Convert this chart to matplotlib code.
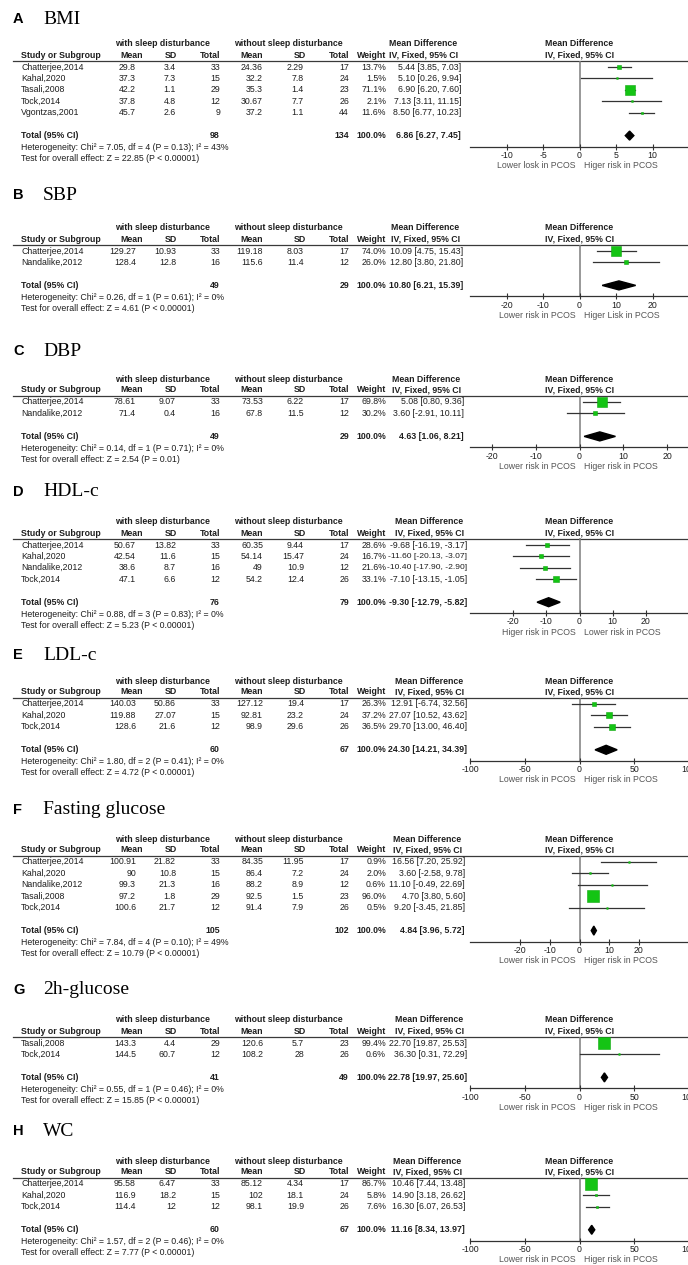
import matplotlib
matplotlib.use("Agg")
import matplotlib.pyplot as plt
from matplotlib.transforms import offset_copy

plt.rcParams['font.family'] = ['Liberation Sans', 'DejaVu Sans']
plt.rcParams['axes.unicode_minus'] = False

# ------------------------------------------------------------------ data
# A  BMI
A_studies = ["Chatterjee,2014", "Kahal,2020", "Tasali,2008", "Tock,2014", "Vgontzas,2001"]
A_exp_mean = [29.8, 37.3, 42.2, 37.8, 45.7]
A_exp_sd = [3.4, 7.3, 1.1, 4.8, 2.6]
A_exp_n = [33, 15, 29, 12, 9]
A_ctl_mean = [24.36, 32.2, 35.3, 30.67, 37.2]
A_ctl_sd = [2.29, 7.8, 1.4, 7.7, 1.1]
A_ctl_n = [17, 24, 23, 26, 44]
A_weight = [13.7, 1.5, 71.1, 2.1, 11.6]
A_md = [5.44, 5.10, 6.90, 7.13, 8.50]
A_lo = [3.85, 0.26, 6.20, 3.11, 6.77]
A_hi = [7.03, 9.94, 7.60, 11.15, 10.23]
A_totals = [98, 134]
A_pooled = [6.86, 6.27, 7.45]
A_het = [7.05, 4, 0.13, 43]
A_z = [22.85, "< 0.00001"]
A_ticks = [-10, -5, 0, 5, 10]
A_labels = ["Lower losk in PCOS", "Higer risk in PCOS"]

# B  SBP
B_studies = ["Chatterjee,2014", "Nandalike,2012"]
B_exp_mean = [129.27, 128.4]
B_exp_sd = [10.93, 12.8]
B_exp_n = [33, 16]
B_ctl_mean = [119.18, 115.6]
B_ctl_sd = [8.03, 11.4]
B_ctl_n = [17, 12]
B_weight = [74.0, 26.0]
B_md = [10.09, 12.80]
B_lo = [4.75, 3.80]
B_hi = [15.43, 21.80]
B_totals = [49, 29]
B_pooled = [10.80, 6.21, 15.39]
B_het = [0.26, 1, 0.61, 0]
B_z = [4.61, "< 0.00001"]
B_ticks = [-20, -10, 0, 10, 20]
B_labels = ["Lower risk in PCOS", "Higer Lisk in PCOS"]

# C  DBP
C_studies = ["Chatterjee,2014", "Nandalike,2012"]
C_exp_mean = [78.61, 71.4]
C_exp_sd = [9.07, 0.4]
C_exp_n = [33, 16]
C_ctl_mean = [73.53, 67.8]
C_ctl_sd = [6.22, 11.5]
C_ctl_n = [17, 12]
C_weight = [69.8, 30.2]
C_md = [5.08, 3.60]
C_lo = [0.80, -2.91]
C_hi = [9.36, 10.11]
C_totals = [49, 29]
C_pooled = [4.63, 1.06, 8.21]
C_het = [0.14, 1, 0.71, 0]
C_z = [2.54, "= 0.01"]
C_ticks = [-20, -10, 0, 10, 20]
C_labels = ["Lower risk in PCOS", "Higer risk in PCOS"]

# D  HDL-c
D_studies = ["Chatterjee,2014", "Kahal,2020", "Nandalike,2012", "Tock,2014"]
D_exp_mean = [50.67, 42.54, 38.6, 47.1]
D_exp_sd = [13.82, 11.6, 8.7, 6.6]
D_exp_n = [33, 15, 16, 12]
D_ctl_mean = [60.35, 54.14, 49, 54.2]
D_ctl_sd = [9.44, 15.47, 10.9, 12.4]
D_ctl_n = [17, 24, 12, 26]
D_weight = [28.6, 16.7, 21.6, 33.1]
D_md = [-9.68, -11.60, -10.40, -7.10]
D_lo = [-16.19, -20.13, -17.90, -13.15]
D_hi = [-3.17, -3.07, -2.90, -1.05]
D_totals = [76, 79]
D_pooled = [-9.30, -12.79, -5.82]
D_het = [0.88, 3, 0.83, 0]
D_z = [5.23, "< 0.00001"]
D_ticks = [-20, -10, 0, 10, 20]
D_labels = ["Higer risk in PCOS", "Lower risk in PCOS"]

# E  LDL-c
E_studies = ["Chatterjee,2014", "Kahal,2020", "Tock,2014"]
E_exp_mean = [140.03, 119.88, 128.6]
E_exp_sd = [50.86, 27.07, 21.6]
E_exp_n = [33, 15, 12]
E_ctl_mean = [127.12, 92.81, 98.9]
E_ctl_sd = [19.4, 23.2, 29.6]
E_ctl_n = [17, 24, 26]
E_weight = [26.3, 37.2, 36.5]
E_md = [12.91, 27.07, 29.70]
E_lo = [-6.74, 10.52, 13.00]
E_hi = [32.56, 43.62, 46.40]
E_totals = [60, 67]
E_pooled = [24.30, 14.21, 34.39]
E_het = [1.80, 2, 0.41, 0]
E_z = [4.72, "< 0.00001"]
E_ticks = [-100, -50, 0, 50, 100]
E_labels = ["Lower risk in PCOS", "Higer risk in PCOS"]

# F  Fasting glucose
F_studies = ["Chatterjee,2014", "Kahal,2020", "Nandalike,2012", "Tasali,2008", "Tock,2014"]
F_exp_mean = [100.91, 90, 99.3, 97.2, 100.6]
F_exp_sd = [21.82, 10.8, 21.3, 1.8, 21.7]
F_exp_n = [33, 15, 16, 29, 12]
F_ctl_mean = [84.35, 86.4, 88.2, 92.5, 91.4]
F_ctl_sd = [11.95, 7.2, 8.9, 1.5, 7.9]
F_ctl_n = [17, 24, 12, 23, 26]
F_weight = [0.9, 2.0, 0.6, 96.0, 0.5]
F_md = [16.56, 3.60, 11.10, 4.70, 9.20]
F_lo = [7.20, -2.58, -0.49, 3.80, -3.45]
F_hi = [25.92, 9.78, 22.69, 5.60, 21.85]
F_totals = [105, 102]
F_pooled = [4.84, 3.96, 5.72]
F_het = [7.84, 4, 0.10, 49]
F_z = [10.79, "< 0.00001"]
F_ticks = [-20, -10, 0, 10, 20]
F_labels = ["Lower risk in PCOS", "Higer risk in PCOS"]

# G  2h-glucose
G_studies = ["Tasali,2008", "Tock,2014"]
G_exp_mean = [143.3, 144.5]
G_exp_sd = [4.4, 60.7]
G_exp_n = [29, 12]
G_ctl_mean = [120.6, 108.2]
G_ctl_sd = [5.7, 28]
G_ctl_n = [23, 26]
G_weight = [99.4, 0.6]
G_md = [22.70, 36.30]
G_lo = [19.87, 0.31]
G_hi = [25.53, 72.29]
G_totals = [41, 49]
G_pooled = [22.78, 19.97, 25.60]
G_het = [0.55, 1, 0.46, 0]
G_z = [15.85, "< 0.00001"]
G_ticks = [-100, -50, 0, 50, 100]
G_labels = ["Lower risk in PCOS", "Higer risk in PCOS"]

# H  WC
H_studies = ["Chatterjee,2014", "Kahal,2020", "Tock,2014"]
H_exp_mean = [95.58, 116.9, 114.4]
H_exp_sd = [6.47, 18.2, 12]
H_exp_n = [33, 15, 12]
H_ctl_mean = [85.12, 102, 98.1]
H_ctl_sd = [4.34, 18.1, 19.9]
H_ctl_n = [17, 24, 26]
H_weight = [86.7, 5.8, 7.6]
H_md = [10.46, 14.90, 16.30]
H_lo = [7.44, 3.18, 6.07]
H_hi = [13.48, 26.62, 26.53]
H_totals = [60, 67]
H_pooled = [11.16, 8.34, 13.97]
H_het = [1.57, 2, 0.46, 0]
H_z = [7.77, "< 0.00001"]
H_ticks = [-100, -50, 0, 50, 100]
H_labels = ["Lower risk in PCOS", "Higer risk in PCOS"]

letters = ["A", "B", "C", "D", "E", "F", "G", "H"]
names = ["BMI", "SBP", "DBP", "HDL-c", "LDL-c", "Fasting glucose", "2h-glucose", "WC"]

# ------------------------------------------------------------------ layout
W, H = 688, 1265
title_y = [19, 195, 351, 492, 655, 810, 990, 1131]
first_row = [67, 251, 402, 545, 704, 862, 1043, 1184]
x_half = [15, 30, 25, 33, 100, 37, 100, 100]
md_right = [461, 463, 464, 467, 467, 465, 467, 465]
ROW = 11.4
FS = 6.3
TXT = "#1e1e1e"
FL, FR = 470, 689
ZERO_X = (FL + FR) / 2
MD_LEFT = 388  # estimate text must start right of the weight column

COLV = dict(em=136, es=176, en=220, cm=263, cs=304, cn=349, wt=386)
COLH = dict(em=143, es=177, en=220, cm=263, cs=306, cn=349, wt=386)

g = globals()
panels = []
for i, L in enumerate(letters):
    panels.append(dict(
        letter=L, name=names[i],
        studies=g[L + "_studies"], exp_mean=g[L + "_exp_mean"], exp_sd=g[L + "_exp_sd"],
        exp_n=g[L + "_exp_n"], ctl_mean=g[L + "_ctl_mean"], ctl_sd=g[L + "_ctl_sd"],
        ctl_n=g[L + "_ctl_n"], weight=g[L + "_weight"], md=g[L + "_md"],
        lo=g[L + "_lo"], hi=g[L + "_hi"], totals=g[L + "_totals"],
        pooled=g[L + "_pooled"], het=g[L + "_het"], z=g[L + "_z"],
        ticks=g[L + "_ticks"], labels=g[L + "_labels"],
        title_y=title_y[i], first=first_row[i], half=x_half[i], mdx=md_right[i]))

fig = plt.figure(figsize=(W / 100, H / 100), dpi=100)
renderer = fig.canvas.get_renderer()
tx = fig.add_axes([0, 0, 1, 1])
tx.set_xlim(0, W)
tx.set_ylim(H, 0)
tx.axis("off")


def put(x, y, s, ha="left", bold=False, color=TXT, size=FS):
    return tx.text(x, y, s, ha=ha, va="center", fontsize=size, color=color,
                   fontweight="bold" if bold else "normal")


def put_fit(x, y, s, bold=False):
    t = put(x, y, s, ha="right", bold=bold)
    w = t.get_window_extent(renderer=renderer).width
    maxw = x - MD_LEFT
    if w > maxw:
        t.set_fontsize(FS * maxw / w)
    return t


def num(v):
    return f"{v:g}"


for p in panels:
    n = len(p["studies"])
    rows = [p["first"] + k * ROW for k in range(n)]
    total_y = rows[-1] + 23
    line_y = p["first"] - 6.5
    h2 = line_y - 5.5
    h1 = h2 - 11
    axis_y = total_y + 11
    mdx = p["mdx"]

    # panel title
    tx.text(13, p["title_y"], p["letter"], fontsize=10.5, fontweight="bold",
            va="center", ha="left", color="black")
    tx.text(43, p["title_y"], p["name"], fontsize=14, family="Liberation Serif",
            va="center", ha="left", color="black")

    # table headers
    put(162, h1, "with sleep disturbance", ha="center", bold=True)
    put(288, h1, "without sleep disturbance", ha="center", bold=True)
    put(mdx - 38, h1, "Mean Difference", ha="center", bold=True)
    put(ZERO_X, h1, "Mean Difference", ha="center", bold=True)
    put(21, h2, "Study or Subgroup", bold=True)
    put(COLH["em"], h2, "Mean", ha="right", bold=True)
    put(COLH["es"], h2, "SD", ha="right", bold=True)
    put(COLH["en"], h2, "Total", ha="right", bold=True)
    put(COLH["cm"], h2, "Mean", ha="right", bold=True)
    put(COLH["cs"], h2, "SD", ha="right", bold=True)
    put(COLH["cn"], h2, "Total", ha="right", bold=True)
    put(COLH["wt"], h2, "Weight", ha="right", bold=True)
    put(mdx - 3, h2, "IV, Fixed, 95% CI", ha="right", bold=True)
    put(ZERO_X, h2, "IV, Fixed, 95% CI", ha="center", bold=True)
    tx.plot([13, W], [line_y, line_y], color="#3a3a3a", lw=0.9)

    # study rows
    for k in range(n):
        y = rows[k]
        put(21, y, p["studies"][k])
        put(COLV["em"], y, num(p["exp_mean"][k]), ha="right")
        put(COLV["es"], y, num(p["exp_sd"][k]), ha="right")
        put(COLV["en"], y, str(p["exp_n"][k]), ha="right")
        put(COLV["cm"], y, num(p["ctl_mean"][k]), ha="right")
        put(COLV["cs"], y, num(p["ctl_sd"][k]), ha="right")
        put(COLV["cn"], y, str(p["ctl_n"][k]), ha="right")
        put(COLV["wt"], y, f"{p['weight'][k]:.1f}%", ha="right")
        put_fit(mdx, y, f"{p['md'][k]:.2f} [{p['lo'][k]:.2f}, {p['hi'][k]:.2f}]")

    # pooled row and statistics
    est, plo, phi = p["pooled"]
    put(21, total_y, "Total (95% CI)", bold=True)
    put(COLV["en"], total_y, str(p["totals"][0]), ha="right", bold=True)
    put(COLV["cn"], total_y, str(p["totals"][1]), ha="right", bold=True)
    put(COLV["wt"], total_y, "100.0%", ha="right", bold=True)
    put_fit(mdx, total_y, f"{est:.2f} [{plo:.2f}, {phi:.2f}]", bold=True)
    chi, df, pv, i2 = p["het"]
    put(21, total_y + 12,
        f"Heterogeneity: Chi\u00b2 = {chi:.2f}, df = {df} (P = {pv:.2f}); I\u00b2 = {i2}%")
    put(21, total_y + 23, f"Test for overall effect: Z = {p['z'][0]:.2f} (P {p['z'][1]})")

    # forest plot axes (y in pixel rows)
    ax = fig.add_axes([FL / W, 1 - axis_y / H, (FR - FL) / W, (axis_y - line_y) / H])
    ax.patch.set_visible(False)
    ax.set_xlim(-p["half"], p["half"])
    ax.set_ylim(axis_y, line_y)
    for s in ("top", "left", "right"):
        ax.spines[s].set_visible(False)
    ax.spines["bottom"].set_color("#333333")
    ax.spines["bottom"].set_linewidth(0.9)
    ax.set_yticks([])
    ax.set_xticks(p["ticks"])
    ax.set_xticklabels([f"{t:g}" for t in p["ticks"]])
    ax.tick_params(axis="x", direction="inout", length=4, width=0.8, colors="#333333",
                   labelsize=FS, pad=1)
    for lab in ax.get_xticklabels():
        lab.set_color(TXT)
    ax.axvline(0, color="#7d7d7d", lw=1.1, zorder=1)

    for k in range(n):
        y = rows[k]
        ax.plot([p["lo"][k], p["hi"][k]], [y, y], color="#333333", lw=0.9, zorder=2,
                clip_on=False)
        side_px = 1.5 + 11 * p["weight"][k] / 100
        ax.plot([p["md"][k]], [y], marker="s", ms=side_px * 0.72, mfc="#14c414",
                mec="#10a810", mew=0.4, zorder=3, clip_on=False)
    ax.fill([plo, est, phi, est], [total_y, total_y - 4.5, total_y, total_y + 4.5],
            color="black", zorder=3, clip_on=False)

    left_tr = offset_copy(ax.transData, fig=fig, x=-4, y=0, units="dots")
    right_tr = offset_copy(ax.transData, fig=fig, x=4, y=0, units="dots")
    ax.text(0, axis_y + 19, p["labels"][0], ha="right", va="center", fontsize=FS,
            color="#555555", transform=left_tr, clip_on=False)
    ax.text(0, axis_y + 19, p["labels"][1], ha="left", va="center", fontsize=FS,
            color="#555555", transform=right_tr, clip_on=False)

fig.savefig("out.png", dpi=100)
